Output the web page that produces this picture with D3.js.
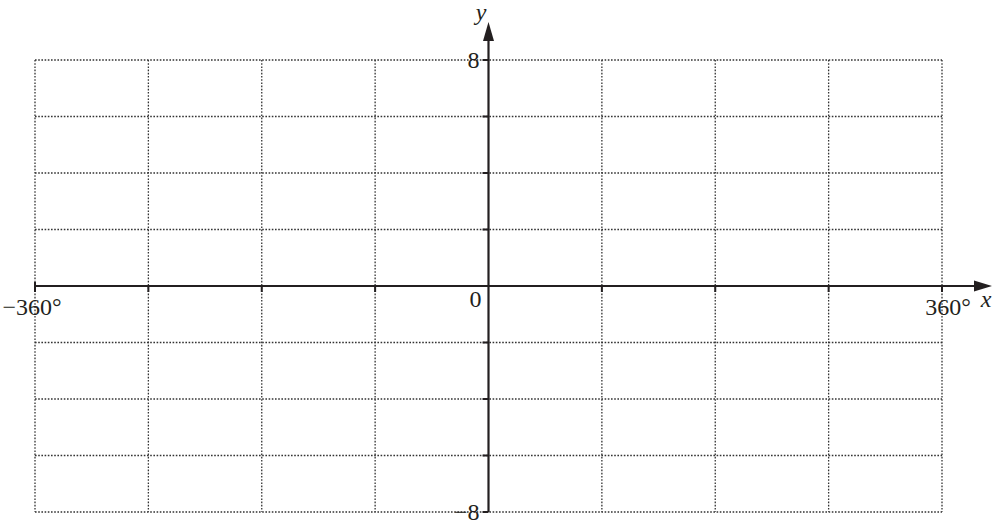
<!DOCTYPE html>
<html><head><meta charset="utf-8">
<script src="https://cdn.jsdelivr.net/npm/d3@7"></script>
<style>html,body{margin:0;padding:0;background:#fff}svg{display:block}</style>
</head><body>
<svg id="c" width="997" height="530"></svg>
<script>
const xDomain = [-360, 360];
const yDomain = [-8, 8];
const xGridValues = [-360, -270, -180, -90, 0, 90, 180, 270, 360];
const yGridValues = [-8, -6, -4, -2, 0, 2, 4, 6, 8];
const xTickLabels = [{v: -360, t: "\u2212360\u00b0"}, {v: 360, t: "360\u00b0"}];
const yTickLabels = [{v: 8, t: "8"}, {v: -8, t: "\u22128"}];

const svg = d3.select("#c");
const x = d3.scaleLinear().domain(xDomain).range([35, 942]);
const y = d3.scaleLinear().domain(yDomain).range([512, 60]);
const font = "Liberation Serif, Times New Roman, serif";
const ink = "#231f20";
const fs = 24;

// grid
const g = svg.append("g");
g.selectAll("line.vx").data(xGridValues.filter(v => v !== 0)).join("line")
  .attr("x1", d => x(d)).attr("x2", d => x(d)).attr("y1", y(8)).attr("y2", y(-8))
  .attr("stroke", "#333").attr("stroke-width", 1.3).attr("stroke-dasharray", "1.6,1.6");
g.selectAll("line.hy").data(yGridValues.filter(v => v !== 0)).join("line")
  .attr("y1", d => y(d)).attr("y2", d => y(d)).attr("x1", x(-360)).attr("x2", x(360))
  .attr("stroke", "#333").attr("stroke-width", 1.3).attr("stroke-dasharray", "1.6,1.6");

// axes
svg.append("line").attr("x1", x(-360)).attr("x2", 978).attr("y1", y(0)).attr("y2", y(0))
  .attr("stroke", ink).attr("stroke-width", 2.2);
svg.append("path").attr("d", `M992,${y(0)} L974,${y(0)-5.5} L974,${y(0)+5.5} Z`).attr("fill", ink);
svg.append("line").attr("x1", x(0)).attr("x2", x(0)).attr("y1", y(-8)).attr("y2", 38)
  .attr("stroke", ink).attr("stroke-width", 2.2);
svg.append("path").attr("d", `M${x(0)},22 L${x(0)-5.5},41 L${x(0)+5.5},41 Z`).attr("fill", ink);

// x ticks (below axis)
svg.selectAll("line.xt").data(xGridValues.filter(v => v !== 0)).join("line")
  .attr("x1", d => x(d)).attr("x2", d => x(d))
  .attr("y1", d => d === -360 ? y(0) - 4 : y(0)).attr("y2", y(0) + 6)
  .attr("stroke", ink).attr("stroke-width", 2);
// y ticks (left of axis)
svg.selectAll("line.yt").data(yGridValues.filter(v => v !== 0)).join("line")
  .attr("y1", d => y(d)).attr("y2", d => y(d)).attr("x1", x(0) - 6).attr("x2", x(0))
  .attr("stroke", ink).attr("stroke-width", 2);

// labels
svg.selectAll("text.xl").data(xTickLabels).join("text")
  .attr("x", d => x(d.v) + (d.v < 0 ? -3 : 6)).attr("y", y(0) + 29)
  .attr("text-anchor", "middle").attr("font-family", font).attr("font-size", fs).attr("fill", ink)
  .text(d => d.t);
svg.selectAll("text.yl").data(yTickLabels).join("text")
  .attr("x", x(0) - 9).attr("y", d => y(d.v) + 8)
  .attr("text-anchor", "end").attr("font-family", font).attr("font-size", fs).attr("fill", ink)
  .text(d => d.t);
svg.append("text").attr("x", x(0) - 7).attr("y", y(0) + 21).attr("text-anchor", "end")
  .attr("font-family", font).attr("font-size", fs).attr("fill", ink).text("0");
svg.append("text").attr("x", 481).attr("y", 20).attr("text-anchor", "middle")
  .attr("font-family", font).attr("font-style", "italic").attr("font-size", fs).attr("fill", ink).text("y");
svg.append("text").attr("x", 986).attr("y", 307).attr("text-anchor", "middle")
  .attr("font-family", font).attr("font-style", "italic").attr("font-size", fs).attr("fill", ink).text("x");
</script>
</body></html>
